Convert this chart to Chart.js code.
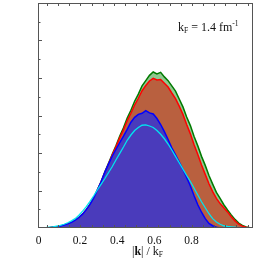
<!DOCTYPE html>
<html>
<head>
<meta charset="utf-8">
<script src="https://cdn.jsdelivr.net/npm/chart.js@4.4.1/dist/chart.umd.min.js"></script>
<style>
  html, body { margin: 0; padding: 0; background: #fff; }
  #wrap { width: 258px; height: 258px; position: relative; }
</style>
</head>
<body>
<div id="wrap"><canvas id="myChart"></canvas></div>
<script>
// bin centres in |k| / kF
const kBins = [0, 0.02, 0.04, 0.06, 0.08, 0.10, 0.12, 0.14, 0.16, 0.18,
  0.20, 0.22, 0.24, 0.26, 0.28, 0.30, 0.32, 0.34, 0.36, 0.38,
  0.40, 0.42, 0.44, 0.46, 0.48, 0.50, 0.52, 0.54, 0.56, 0.58,
  0.60, 0.62, 0.64, 0.66, 0.68, 0.70, 0.72, 0.74, 0.76, 0.78,
  0.80, 0.82, 0.84, 0.86, 0.88, 0.90, 0.92, 0.94, 0.96, 0.98,
  1.00, 1.02, 1.04, 1.06, 1.08, 1.10, 1.12, 1.14, 1.16];

const greenVals = [0, 0, 0, 0.01, 0.02, 0.03, 0.05, 0.08, 0.11, 0.15,
  0.21, 0.28, 0.37, 0.49, 0.63, 0.8, 1.02, 1.24, 1.5, 1.73,
  1.97, 2.2, 2.45, 2.67, 2.93, 3.14, 3.38, 3.57, 3.79, 3.93,
  4.07, 4.16, 4.11, 4.15, 4.03, 3.93, 3.79, 3.65, 3.44, 3.23,
  2.96, 2.73, 2.44, 2.19, 1.91, 1.67, 1.4, 1.17, 0.95, 0.79,
  0.62, 0.48, 0.35, 0.23, 0.13, 0.07, 0.03, 0.01, 0];

const redVals = [0, 0, 0, 0.01, 0.02, 0.03, 0.05, 0.08, 0.11, 0.15,
  0.21, 0.28, 0.37, 0.49, 0.63, 0.8, 1.01, 1.23, 1.48, 1.71,
  1.95, 2.17, 2.41, 2.62, 2.86, 3.06, 3.28, 3.46, 3.66, 3.8,
  3.92, 3.99, 3.95, 3.96, 3.86, 3.76, 3.6, 3.45, 3.25, 3.03,
  2.76, 2.51, 2.22, 1.96, 1.68, 1.43, 1.18, 0.97, 0.79, 0.65,
  0.54, 0.43, 0.3, 0.19, 0.1, 0.05, 0.02, 0, 0];

const blueVals = [0, 0, 0, 0.01, 0.02, 0.03, 0.05, 0.08, 0.11, 0.15,
  0.21, 0.28, 0.37, 0.49, 0.63, 0.8, 1.02, 1.24, 1.49, 1.71,
  1.92, 2.1, 2.28, 2.45, 2.63, 2.82, 2.95, 3.03, 3.06, 3.13,
  3.07, 3.04, 2.92, 2.76, 2.57, 2.36, 2.14, 1.95, 1.76, 1.56,
  1.35, 1.12, 0.86, 0.62, 0.42, 0.25, 0.12, 0.06, 0.02, 0,
  0, 0, 0, 0, 0, 0, 0, 0, 0];

const cyanVals = [0, 0, 0.01, 0.02, 0.03, 0.05, 0.07, 0.1, 0.14, 0.19,
  0.25, 0.34, 0.45, 0.57, 0.71, 0.86, 1.02, 1.17, 1.32, 1.48,
  1.64, 1.82, 1.99, 2.16, 2.34, 2.48, 2.6, 2.68, 2.74, 2.75,
  2.72, 2.68, 2.6, 2.5, 2.38, 2.24, 2.08, 1.91, 1.74, 1.57,
  1.4, 1.24, 1.06, 0.88, 0.7, 0.54, 0.38, 0.25, 0.16, 0.1,
  0.06, 0.04, 0.03, 0.02, 0.01, 0, 0, 0, 0];

const xTickLabels = ['0', '0.2', '0.4', '0.6', '0.8'];

const toPoints = (vals) => vals.map((v, i) => ({ x: kBins[i], y: v }));

const serif = "'Liberation Serif', 'DejaVu Serif', serif";

// box, inner tick marks and the text bits
const framePlugin = {
    id: 'frame',
    afterDraw(chart) {
        const { ctx, chartArea: a, scales } = chart;
        const xs = scales.x, ys = scales.y;
        ctx.save();
        ctx.strokeStyle = '#555';
        ctx.lineWidth = 1;
        ctx.strokeRect(a.left + 0.5, a.top + 0.5, a.right - a.left - 1, a.bottom - a.top - 1);

        // left ticks
        ctx.beginPath();
        for (let v = 0.5; v < 6; v += 0.5) {
            const py = Math.round(ys.getPixelForValue(v)) + 0.5;
            const len = Number.isInteger(v) ? 4 : 2.5;
            ctx.moveTo(a.left, py);
            ctx.lineTo(a.left + len, py);
        }
        // top / bottom ticks
        for (let v = 0.048; v < xs.max; v += 0.06) {
            const px = Math.round(xs.getPixelForValue(v)) + 0.5;
            ctx.moveTo(px, a.top);
            ctx.lineTo(px, a.top + 3);
            ctx.moveTo(px, a.bottom);
            ctx.lineTo(px, a.bottom - 3);
        }
        ctx.stroke();

        ctx.fillStyle = '#111';
        ctx.textBaseline = 'alphabetic';
        ctx.textAlign = 'left';

        // kF = 1.4 fm^-1
        let x = 178, y = 30.5;
        ctx.font = '12px ' + serif;
        ctx.fillText('k', x, y); x += ctx.measureText('k').width;
        ctx.font = '7.5px ' + serif;
        ctx.fillText('F', x, y + 2); x += ctx.measureText('F').width;
        ctx.font = '12px ' + serif;
        const mid = ' = 1.4 fm';
        ctx.fillText(mid, x, y); x += ctx.measureText(mid).width;
        ctx.font = '7.5px ' + serif;
        ctx.fillText('-1', x, y - 5);

        // axis title |k| / kF
        const parts = [
            ['|', '12px ' + serif, 0],
            ['k', 'bold 12px ' + serif, 0],
            ['| / k', '12px ' + serif, 0],
            ['F', '7.5px ' + serif, 2]
        ];
        let w = 0;
        parts.forEach(p => { ctx.font = p[1]; w += ctx.measureText(p[0]).width; });
        x = (a.left + a.right) / 2 - w / 2 + 2;
        y = 255;
        parts.forEach(p => {
            ctx.font = p[1];
            ctx.fillText(p[0], x, y + p[2]);
            x += ctx.measureText(p[0]).width;
        });
        ctx.restore();
    }
};

const ctx = document.getElementById('myChart').getContext('2d');
new Chart(ctx, {
    type: 'line',
    data: {
        datasets: [
            {
                label: 'cyan',
                data: toPoints(cyanVals),
                borderColor: '#00e4f0',
                borderWidth: 1.3,
                fill: false
            },
            {
                label: 'blue',
                data: toPoints(blueVals),
                borderColor: '#0000ff',
                backgroundColor: '#4a3bbb',
                borderWidth: 1.5,
                fill: 'origin'
            },
            {
                label: 'red',
                data: toPoints(redVals),
                borderColor: '#ff0000',
                backgroundColor: '#b9603f',
                borderWidth: 1.5,
                fill: 'origin'
            },
            {
                label: 'green',
                data: toPoints(greenVals),
                borderColor: '#007a00',
                backgroundColor: '#8fc88f',
                borderWidth: 1.5,
                fill: 'origin'
            }
        ]
    },
    options: {
        responsive: true,
        maintainAspectRatio: false,
        animation: false,
        events: [],
        layout: { padding: { left: 0, right: 5, top: 3, bottom: 0 } },
        elements: {
            point: { radius: 0 },
            line: { stepped: false, tension: 0 }
        },
        plugins: {
            legend: { display: false },
            tooltip: { enabled: false }
        },
        scales: {
            x: {
                type: 'linear',
                min: 0,
                max: 1.157,
                afterFit: (s) => { s.height = 30; },
                grid: { display: false },
                border: { display: false },
                ticks: {
                    stepSize: 0.2,
                    autoSkip: false,
                    maxRotation: 0,
                    align: 'start',
                    labelOffset: -2.3,
                    padding: -2,
                    color: '#111',
                    font: { family: serif, size: 11.5 },
                    callback: (v) => {
                        const i = Math.round(v / 0.2);
                        return Math.abs(v - i * 0.2) < 1e-6 && i < xTickLabels.length ? xTickLabels[i] : '';
                    }
                }
            },
            y: {
                min: 0,
                max: 6,
                afterFit: (s) => { s.width = 38; },
                grid: { display: false },
                border: { display: false },
                ticks: { display: false }
            }
        }
    },
    plugins: [framePlugin]
});
</script>
</body>
</html>
